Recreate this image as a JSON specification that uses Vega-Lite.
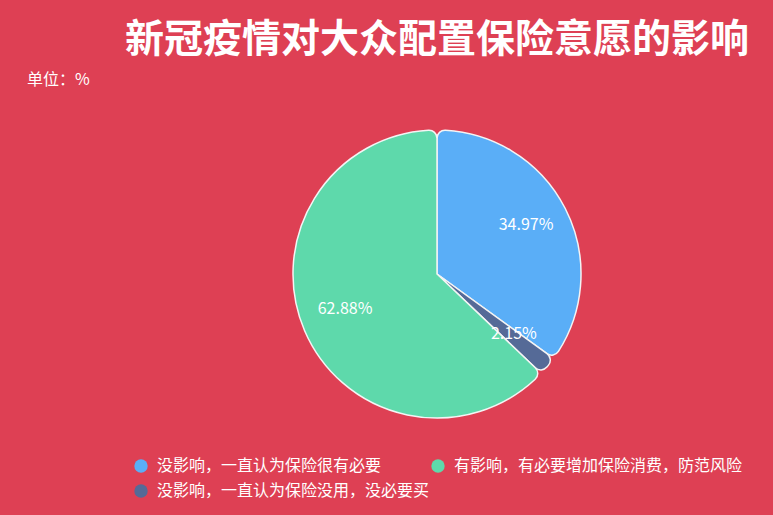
{
  "$schema": "https://vega.github.io/schema/vega-lite/v6.json",
  "autosize": {"type": "none"},
  "width": 288,
  "height": 288,
  "padding": {"left": 293, "top": 130, "right": 192, "bottom": 97},
  "background": "#de4054",
  "title": {
    "text": "新冠疫情对大众配置保险意愿的影响",
    "anchor": "middle",
    "frame": "group",
    "fontSize": 39,
    "fontWeight": "bold",
    "color": "#ffffff",
    "font": "Noto Sans CJK SC",
    "offset": 12
  },
  "config": {
    "view": {"stroke": null},
    "font": "Noto Sans CJK SC"
  },
  "layer": [
    {
      "data": {
        "values": [
          {"category": "没影响，一直认为保险很有必要", "value": 34.97, "label": "34.97%", "rank": 1},
          {"category": "没影响，一直认为保险没用，没必要买", "value": 2.15, "label": "2.15%", "rank": 2},
          {"category": "有影响，有必要增加保险消费，防范风险", "value": 62.88, "label": "62.88%", "rank": 3}
        ]
      },
      "encoding": {
        "theta": {"field": "value", "type": "quantitative", "stack": true},
        "order": {"field": "rank", "type": "quantitative"},
        "color": {
          "field": "category",
          "type": "nominal",
          "scale": {
            "domain": ["没影响，一直认为保险很有必要", "有影响，有必要增加保险消费，防范风险", "没影响，一直认为保险没用，没必要买"],
            "range": ["#5aaef7", "#5ed9ab", "#556a97"]
          },
          "legend": {
            "title": null,
            "orient": "none",
            "legendX": -160,
            "legendY": 328,
            "direction": "horizontal",
            "columns": 2,
            "gridAlign": "none",
            "columnPadding": 0,
            "rowPadding": 9,
            "symbolType": "circle",
            "symbolSize": 180,
            "symbolStrokeWidth": 0,
            "labelFontSize": 16,
            "labelColor": "#ffffff",
            "labelFont": "Noto Sans CJK SC",
            "labelLimit": 400,
            "labelOffset": 8
          }
        }
      },
      "layer": [
        {
          "mark": {"type": "arc", "outerRadius": 144, "cornerRadius": 8, "stroke": "#f4f4f4", "strokeWidth": 1.5}
        },
        {
          "mark": {"type": "text", "radius": 100, "fontSize": 16, "dy": -4, "font": "Noto Sans CJK SC"},
          "encoding": {
            "text": {"field": "label", "type": "nominal"},
            "color": {"value": "#ffffff"}
          }
        }
      ]
    },
    {
      "data": {"values": [{"t": "单位：%"}]},
      "mark": {"type": "text", "x": -266, "y": -50, "align": "left", "baseline": "middle", "fontSize": 16, "color": "#ffffff", "font": "Noto Sans CJK SC"},
      "encoding": {"text": {"field": "t", "type": "nominal"}}
    }
  ]
}
